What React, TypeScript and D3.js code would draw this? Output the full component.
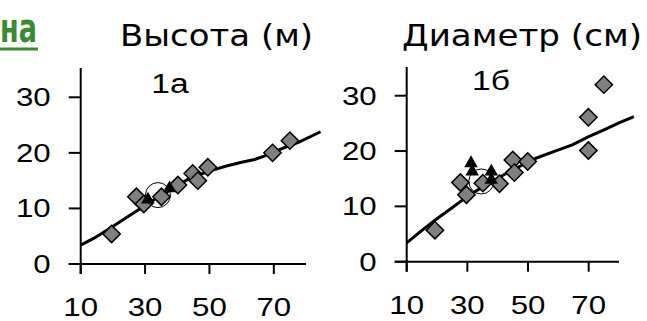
import React from "react";
import * as d3 from "d3";

// Высота (1а)
const heightDiamondsX = [19.6, 27.3, 29.6, 35.1, 40.2, 44.8, 46.4, 49.5, 69.6, 75];
const heightDiamondsY = [5.4, 12.1, 10.8, 12.1, 14.2, 16.3, 15.0, 17.4, 20.0, 22.2];
const heightTrianglesX = [30.9, 37.6];
const heightTrianglesY = [11.6, 13.6];
const heightCircle = [34, 12.4];
const heightCurveX = [10, 14, 19, 24, 29.4, 34, 38.6, 44, 51, 55, 60, 64, 67, 72.7, 78, 84.5];
const heightCurveY = [3.4, 4.6, 6.4, 8.3, 10.3, 12, 13.6, 15.5, 16.9, 17.6, 18.3, 18.8, 19.4, 20.8, 22, 23.8];

// Диаметр (1б)
const diamDiamondsX = [19.3, 27.7, 29.7, 35.1, 40.6, 45, 45.5, 49.9, 69.9, 69.9, 75];
const diamDiamondsY = [5.7, 14.3, 12.1, 14.2, 14.1, 18.4, 16.1, 18.1, 26.1, 20.1, 32];
const diamTrianglesX = [31.2, 31.6, 37.9, 37.9];
const diamTrianglesY = [17.8, 16.3, 16.3, 14.8];
const diamCircle = [34.6, 14.5];
const diamCurveX = [10, 14, 19.3, 25.3, 30, 36.2, 44, 52.6, 58, 64.6, 70, 74.5, 80, 84.9];
const diamCurveY = [3.4, 5.2, 7.5, 9.9, 11.8, 13.9, 16.3, 18.7, 19.8, 21.1, 22.6, 23.7, 25.1, 26.2];

const xTicks = [10, 30, 50, 70];
const yTicks = [0, 10, 20, 30];

const NUM_FONT = "'Liberation Sans', Arial, sans-serif";
const STRETCH = 1.2;

const Num = ({ x, y, anchor, size = 26, children }) => (
  <text
    transform={`translate(${x},${y}) scale(${STRETCH},1)`}
    fontFamily={NUM_FONT}
    fontSize={size}
    textAnchor={anchor}
    fill="#000"
  >
    {children}
  </text>
);

const Panel = ({ box, label, labelPos, dx, dy, tx, ty, cx, cy, circle }) => {
  const x = d3.scaleLinear().domain([10, 80]).range([box.x0, box.x1]);
  const y = d3.scaleLinear().domain([0, 30]).range([box.yb, box.y30]);

  const line = d3
    .line()
    .x((d) => x(d[0]))
    .y((d) => y(d[1]))
    .curve(d3.curveLinear);
  const curvePts = cx.map((v, i) => [v, cy[i]]);

  const diamond = d3.symbol().type(d3.symbolSquare).size(150)();
  const tri = d3.symbol().type(d3.symbolTriangle).size(80)();

  return (
    <g>
      {/* axes */}
      <line x1={box.x0} x2={box.x0} y1={box.top} y2={box.yb + 10} stroke="#000" strokeWidth={2} />
      <line x1={box.x0 - 12} x2={box.x1} y1={box.yb} y2={box.yb} stroke="#000" strokeWidth={2} />
      {yTicks.map((t) => (
        <g key={"y" + t}>
          <line x1={box.x0 - 12} x2={box.x0} y1={y(t)} y2={y(t)} stroke="#000" strokeWidth={2} />
          <Num x={box.x0 - 30} y={y(t) + 9} anchor="end">{t}</Num>
        </g>
      ))}
      {xTicks.map((t) => (
        <g key={"x" + t}>
          <line x1={x(t)} x2={x(t)} y1={box.yb} y2={box.yb + 10} stroke="#000" strokeWidth={2} />
          <Num x={x(t)} y={box.yb + 52} anchor="middle">{t}</Num>
        </g>
      ))}
      <Num x={labelPos[0]} y={labelPos[1]} anchor="middle" size={28}>{label}</Num>

      {/* fitted curve */}
      <path d={line(curvePts)} fill="none" stroke="#000" strokeWidth={3} />

      {/* points */}
      {dx.map((v, i) => (
        <path
          key={"d" + i}
          d={diamond}
          transform={`translate(${x(v)},${y(dy[i])}) rotate(45)`}
          fill="#808080"
          stroke="#000"
          strokeWidth={1.5}
        />
      ))}
      {tx.map((v, i) => (
        <path key={"t" + i} d={tri} transform={`translate(${x(v)},${y(ty[i])})`} fill="#000" />
      ))}
      <circle cx={x(circle[0])} cy={y(circle[1])} r={12.5} fill="none" stroke="#000" strokeWidth={1} />
    </g>
  );
};

export default function App() {
  return (
    <svg
      width={647}
      height={321}
      style={{ position: "absolute", left: 0, top: 0, background: "#fff" }}
    >
      <text
        x={0}
        y={42}
        textLength={37}
        lengthAdjust="spacingAndGlyphs"
        fontFamily="'DejaVu Sans', sans-serif"
        fontWeight="bold"
        fontSize={40}
        fill="#3a8a30"
      >
        на
      </text>
      <line x1={0} x2={38} y1={49} y2={49} stroke="#3a8a30" strokeWidth={3} />

      <text
        x={120}
        y={46}
        textLength={193}
        lengthAdjust="spacingAndGlyphs"
        fontFamily="'DejaVu Sans', sans-serif"
        fontSize={30}
        fill="#000"
      >
        Высота (м)
      </text>
      <text
        x={402}
        y={46}
        textLength={240}
        lengthAdjust="spacingAndGlyphs"
        fontFamily="'DejaVu Sans', sans-serif"
        fontSize={30}
        fill="#000"
      >
        Диаметр (см)
      </text>

      <Panel
        box={{ x0: 80.7, x1: 306, yb: 264, y30: 97.3, top: 68 }}
        label="1а"
        labelPos={[170, 93]}
        dx={heightDiamondsX}
        dy={heightDiamondsY}
        tx={heightTrianglesX}
        ty={heightTrianglesY}
        cx={heightCurveX}
        cy={heightCurveY}
        circle={heightCircle}
      />
      <Panel
        box={{ x0: 406.7, x1: 619, yb: 261.7, y30: 95.7, top: 67 }}
        label="1б"
        labelPos={[491, 90]}
        dx={diamDiamondsX}
        dy={diamDiamondsY}
        tx={diamTrianglesX}
        ty={diamTrianglesY}
        cx={diamCurveX}
        cy={diamCurveY}
        circle={diamCircle}
      />
    </svg>
  );
}
